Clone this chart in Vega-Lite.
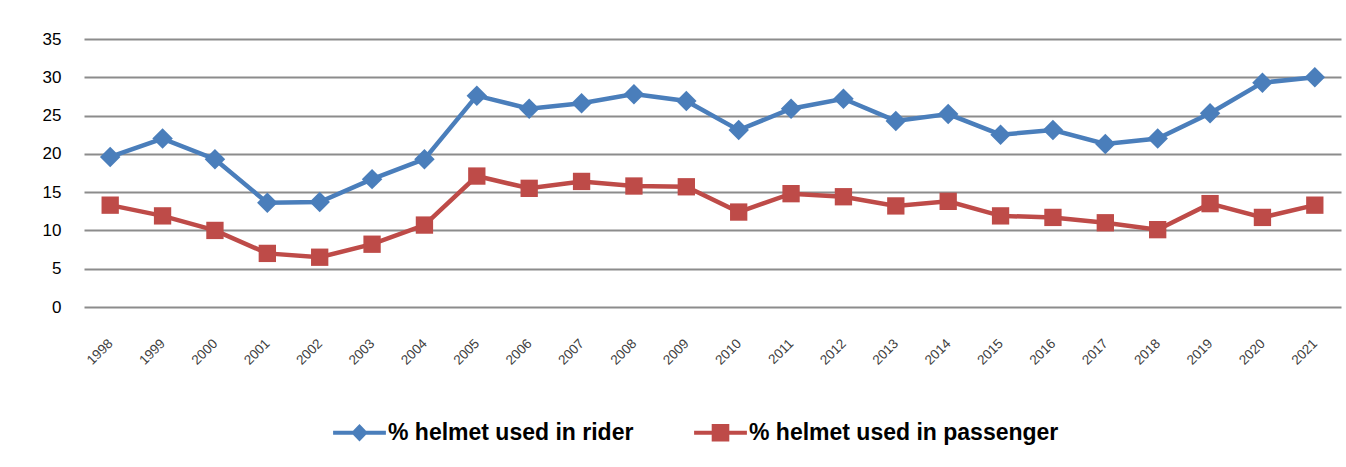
{
  "$schema": "https://vega.github.io/schema/vega-lite/v6.json",
  "width": 1257,
  "height": 268,
  "autosize": "none",
  "padding": {"left": 84, "top": 39, "right": 5, "bottom": 160},
  "background": "white",
  "config": {"view": {"stroke": null}},
  "data": {"values": [
    {"year": "1998", "series": "% helmet used in rider", "v": 19.6},
    {"year": "1999", "series": "% helmet used in rider", "v": 22.0},
    {"year": "2000", "series": "% helmet used in rider", "v": 19.3},
    {"year": "2001", "series": "% helmet used in rider", "v": 13.6},
    {"year": "2002", "series": "% helmet used in rider", "v": 13.7},
    {"year": "2003", "series": "% helmet used in rider", "v": 16.7},
    {"year": "2004", "series": "% helmet used in rider", "v": 19.3},
    {"year": "2005", "series": "% helmet used in rider", "v": 27.6},
    {"year": "2006", "series": "% helmet used in rider", "v": 25.9},
    {"year": "2007", "series": "% helmet used in rider", "v": 26.6},
    {"year": "2008", "series": "% helmet used in rider", "v": 27.8},
    {"year": "2009", "series": "% helmet used in rider", "v": 26.9},
    {"year": "2010", "series": "% helmet used in rider", "v": 23.1},
    {"year": "2011", "series": "% helmet used in rider", "v": 25.9},
    {"year": "2012", "series": "% helmet used in rider", "v": 27.2},
    {"year": "2013", "series": "% helmet used in rider", "v": 24.3},
    {"year": "2014", "series": "% helmet used in rider", "v": 25.2},
    {"year": "2015", "series": "% helmet used in rider", "v": 22.5},
    {"year": "2016", "series": "% helmet used in rider", "v": 23.1},
    {"year": "2017", "series": "% helmet used in rider", "v": 21.3},
    {"year": "2018", "series": "% helmet used in rider", "v": 22.0},
    {"year": "2019", "series": "% helmet used in rider", "v": 25.3},
    {"year": "2020", "series": "% helmet used in rider", "v": 29.3},
    {"year": "2021", "series": "% helmet used in rider", "v": 30.0},
    {"year": "1998", "series": "% helmet used in passenger", "v": 13.3},
    {"year": "1999", "series": "% helmet used in passenger", "v": 11.9},
    {"year": "2000", "series": "% helmet used in passenger", "v": 10.0},
    {"year": "2001", "series": "% helmet used in passenger", "v": 7.0},
    {"year": "2002", "series": "% helmet used in passenger", "v": 6.5},
    {"year": "2003", "series": "% helmet used in passenger", "v": 8.2},
    {"year": "2004", "series": "% helmet used in passenger", "v": 10.7},
    {"year": "2005", "series": "% helmet used in passenger", "v": 17.1},
    {"year": "2006", "series": "% helmet used in passenger", "v": 15.5},
    {"year": "2007", "series": "% helmet used in passenger", "v": 16.4},
    {"year": "2008", "series": "% helmet used in passenger", "v": 15.8},
    {"year": "2009", "series": "% helmet used in passenger", "v": 15.7},
    {"year": "2010", "series": "% helmet used in passenger", "v": 12.4},
    {"year": "2011", "series": "% helmet used in passenger", "v": 14.8},
    {"year": "2012", "series": "% helmet used in passenger", "v": 14.4},
    {"year": "2013", "series": "% helmet used in passenger", "v": 13.2},
    {"year": "2014", "series": "% helmet used in passenger", "v": 13.8},
    {"year": "2015", "series": "% helmet used in passenger", "v": 11.9},
    {"year": "2016", "series": "% helmet used in passenger", "v": 11.7},
    {"year": "2017", "series": "% helmet used in passenger", "v": 11.0},
    {"year": "2018", "series": "% helmet used in passenger", "v": 10.1},
    {"year": "2019", "series": "% helmet used in passenger", "v": 13.5},
    {"year": "2020", "series": "% helmet used in passenger", "v": 11.7},
    {"year": "2021", "series": "% helmet used in passenger", "v": 13.3}
  ]},
  "encoding": {
    "x": {
      "field": "year", "type": "ordinal", "title": null,
      "scale": {"type": "point", "padding": 0.5},
      "axis": {
        "labelAngle": -45, "labelAlign": "right", "labelBaseline": "middle",
        "labelFont": "Liberation Sans", "labelFontSize": 13.5, "labelColor": "#404040",
        "labelPadding": 34, "domain": false, "ticks": false, "grid": false
      }
    },
    "y": {
      "field": "v", "type": "quantitative", "title": null,
      "scale": {"domain": [0, 35], "nice": false},
      "axis": {
        "values": [0, 5, 10, 15, 20, 25, 30, 35],
        "labelFont": "Liberation Sans", "labelFontSize": 17, "labelColor": "#000000",
        "labelPadding": 23, "domain": false, "ticks": false,
        "grid": true, "gridColor": "#8c8c8c", "gridWidth": 1.8
      }
    },
    "color": {
      "field": "series", "type": "nominal",
      "scale": {"domain": ["% helmet used in rider", "% helmet used in passenger"], "range": ["#4a7ebb", "#be4b48"]},
      "legend": {
        "title": null, "orient": "none", "direction": "horizontal",
        "legendX": 264, "legendY": 382, "padding": 0,
        "labelFont": "Liberation Sans", "labelFontSize": 23, "labelFontWeight": "bold",
        "labelColor": "#000000", "labelLimit": 0, "symbolSize": 256,
        "columnPadding": 60, "labelOffset": 17,
        "encode": {
          "symbols": {
            "update": {
              "shape": {"signal": "datum.value === '% helmet used in rider' ? 'M-3.3,-0.25L3.3,-0.25L3.3,0.25L-3.3,0.25Z M0,-1.1L1.05,0L0,1.1L-1.05,0Z' : 'M-3.3,-0.25L3.3,-0.25L3.3,0.25L-3.3,0.25Z M-1.1,-1.1L1.1,-1.1L1.1,1.1L-1.1,1.1Z'"},
              "strokeWidth": {"value": 0},
              "opacity": {"value": 1}
            }
          }
        }
      }
    }
  },
  "layer": [
    {"mark": {"type": "line", "strokeWidth": 4.5}},
    {
      "transform": [{"filter": "datum.series === '% helmet used in rider'"}],
      "mark": {"type": "point", "shape": "diamond", "filled": true, "opacity": 1, "size": 420}
    },
    {
      "transform": [{"filter": "datum.series === '% helmet used in passenger'"}],
      "mark": {"type": "point", "shape": "square", "filled": true, "opacity": 1, "size": 300}
    }
  ]
}
